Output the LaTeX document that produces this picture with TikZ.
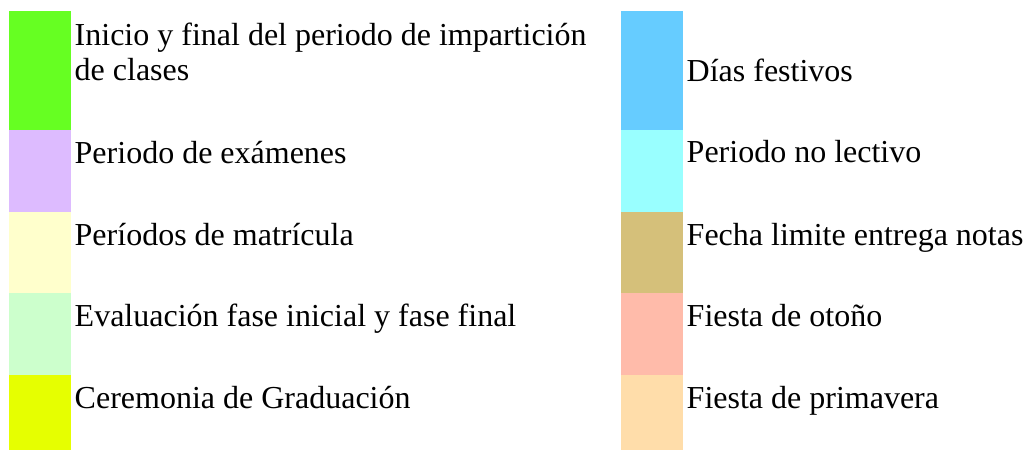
\documentclass[tikz,border=0pt]{standalone}
\usepackage{fontspec}
\setmainfont{Liberation Serif}
\usepackage{xcolor}

\definecolor{clases}{HTML}{66FF22}
\definecolor{examenes}{HTML}{DDBBFF}
\definecolor{matricula}{HTML}{FFFFCC}
\definecolor{evaluacion}{HTML}{CCFFCC}
\definecolor{graduacion}{HTML}{E6FF00}
\definecolor{festivos}{HTML}{66CCFF}
\definecolor{nolectivo}{HTML}{99FFFF}
\definecolor{notas}{HTML}{D5C07A}
\definecolor{otono}{HTML}{FFBBAA}
\definecolor{primavera}{HTML}{FFDDAA}

\begin{document}
\begin{tikzpicture}[x=1pt,y=-1pt]
\tikzstyle{swatch}=[draw=none,inner sep=0pt,outer sep=0pt,anchor=north west,minimum width=62pt];
\tikzstyle{label}=[inner sep=0pt,anchor=base west,align=left,font=\fontsize{32}{35.5}\selectfont];
\useasboundingbox (0,0) rectangle (1027,450);
% colour swatches, left column
\node[swatch,fill=clases,minimum height=119pt](s1) at (9,11) {};
\node[swatch,fill=examenes,minimum height=81.7pt](s2) at (9,130) {};
\node[swatch,fill=matricula,minimum height=81.6pt](s3) at (9,211.7) {};
\node[swatch,fill=evaluacion,minimum height=81.7pt](s4) at (9,293.3) {};
\node[swatch,fill=graduacion,minimum height=75pt](s5) at (9,375) {};
% colour swatches, right column
\node[swatch,fill=festivos,minimum height=119pt](s6) at (621,11) {};
\node[swatch,fill=nolectivo,minimum height=81.7pt](s7) at (621,130) {};
\node[swatch,fill=notas,minimum height=81.6pt](s8) at (621,211.7) {};
\node[swatch,fill=otono,minimum height=81.7pt](s9) at (621,293.3) {};
\node[swatch,fill=primavera,minimum height=75pt](s10) at (621,375) {};
% texts (base = last line)
\node[label](t1) at (74.5,80.5) {Inicio y final del periodo de impartición\\de clases};
\node[label](t2) at (74.5,163.3) {Periodo de exámenes};
\node[label](t3) at (74.5,245) {Períodos de matrícula};
\node[label](t4) at (74.5,326.7) {Evaluación fase inicial y fase final};
\node[label](t5) at (74.5,408.5) {Ceremonia de Graduación};
\node[label](t6) at (686.5,81.7) {Días festivos};
\node[label](t7) at (686.5,162.7) {Periodo no lectivo};
\node[label](t8) at (686.5,245) {Fecha limite entrega notas};
\node[label](t9) at (686.5,326.7) {Fiesta de otoño};
\node[label](t10) at (686.5,408.5) {Fiesta de primavera};
\end{tikzpicture}
\end{document}
